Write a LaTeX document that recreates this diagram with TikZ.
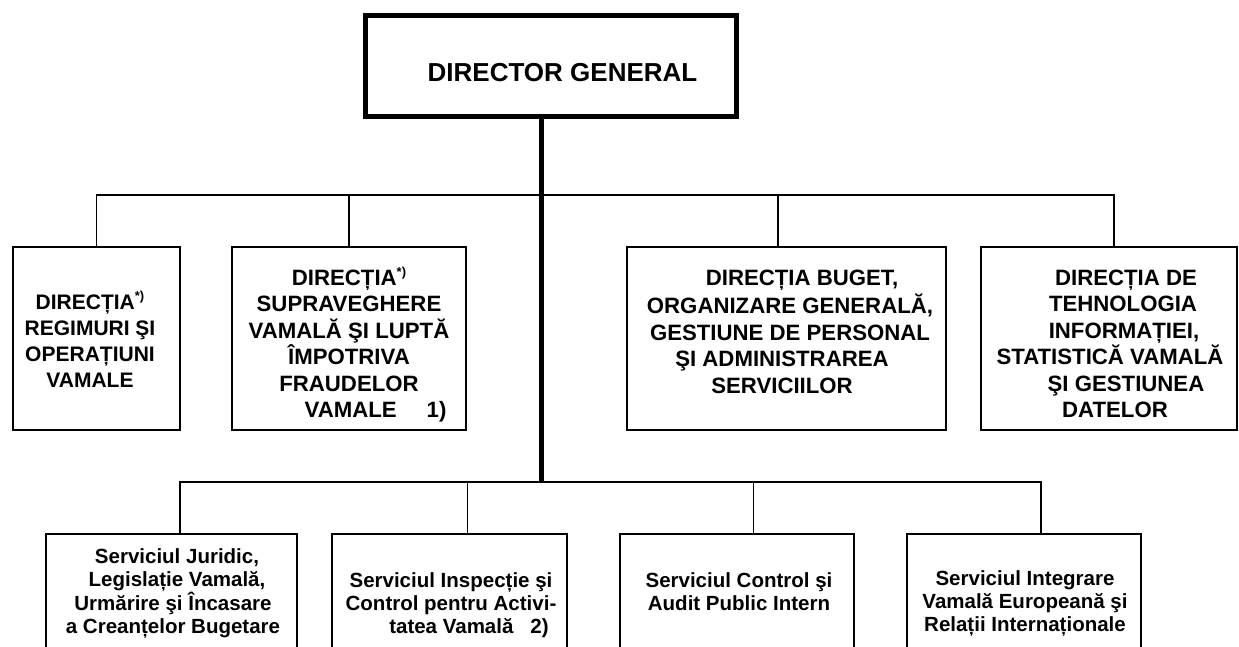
\documentclass[tikz,border=0pt]{standalone}
\usepackage{fontspec}
\setmainfont{Liberation Sans}
\newcommand{\supst}{\raisebox{0.42em}{\fontsize{13}{13}\selectfont *)}}
\tikzset{
  dgbox/.style={draw, rectangle, line width=5pt, inner sep=0pt, minimum width=371pt, minimum height=101pt},
  dirbox/.style={draw, rectangle, line width=1.8pt, inner sep=0pt, minimum height=183pt},
  srvbox/.style={draw, rectangle, line width=1.8pt, inner sep=0pt, minimum height=226pt},
  conn/.style={line width=1.4pt},
  trunk/.style={line width=5pt},
  dgtext/.style={inner sep=0pt, anchor=base, font=\fontsize{26}{31}\selectfont\bfseries},
  dirtext/.style={inner sep=0pt, anchor=north, align=center, font=\fontsize{22.2}{26.5}\selectfont\bfseries},
  smalldirtext/.style={inner sep=0pt, anchor=north, align=center, font=\fontsize{21}{26}\selectfont\bfseries},
  srvtext/.style={inner sep=0pt, anchor=north, align=center, font=\fontsize{20.5}{23}\selectfont\bfseries},
}
\begin{document}
\begin{tikzpicture}[x=1pt, y=-1pt]
\useasboundingbox (0,0) rectangle (1239,646);
\clip (0,0) rectangle (1239,646);

% director
\node[dgbox] (dg) at (551,66) {};
\node[dgtext] (dgt) at (562.5,81.3) {DIRECTOR GENERAL};

% directions
\node[dirbox, minimum width=167pt] (d1) at (96.5,338.5) {};
\node[smalldirtext] (d1t) at (90,291.3) {\strut DIRECȚIA\supst\\REGIMURI ŞI\\OPERAȚIUNI\\VAMALE};
\node[dirbox, minimum width=234pt] (d2) at (349,338.5) {};
\node[dirtext] (d2t) at (349,266.4) {\strut DIRECȚIA\supst\\SUPRAVEGHERE\\VAMALĂ ŞI LUPTĂ\\ÎMPOTRIVA\\FRAUDELOR\\\hspace*{53pt}VAMALE\hspace{30pt}1)};
\node[dirbox, minimum width=319pt] (d3) at (786.5,338.5) {};
\node[dirtext] (d3t) at (790,266.4) {\strut\hspace*{24pt}DIRECȚIA BUGET,\\ORGANIZARE GENERALĂ,\\GESTIUNE DE PERSONAL\\\hspace*{-16pt}ŞI ADMINISTRAREA\\\hspace*{-16pt}SERVICIILOR};
\node[dirbox, minimum width=256pt] (d4) at (1109,338.5) {};
\node[dirtext] (d4t) at (1110,266.4) {\strut\hspace*{32pt}DIRECȚIA DE\\\hspace*{26pt}TEHNOLOGIA\\\hspace*{28pt}INFORMAȚIEI,\\STATISTICĂ VAMALĂ\\\hspace*{32pt}ŞI GESTIUNEA\\\hspace*{10pt}DATELOR};

% services
\node[srvbox, minimum width=251pt] (s1) at (171.5,647) {};
\node[srvtext] (s1t) at (173,547) {\strut\hspace*{8pt}Serviciul Juridic,\\\hspace*{8pt}Legislație Vamală,\\Urmărire şi Încasare\\a Creanțelor Bugetare};
\node[srvbox, minimum width=235pt] (s2) at (449.5,647) {};
\node[srvtext] (s2t) at (451,571.2) {\strut Serviciul Inspecție şi\\Control pentru Activi-\\\hspace*{36pt}tatea Vamală\hspace{17pt}2)};
\node[srvbox, minimum width=234.5pt] (s3) at (737,647) {};
\node[srvtext] (s3t) at (739,571.2) {\strut Serviciul Control şi\\Audit Public Intern};
\node[srvbox, minimum width=234.5pt] (s4) at (1024,647) {};
\node[srvtext] (s4t) at (1025,569.2) {\strut Serviciul Integrare\\Vamală Europeană şi\\Relații Internaționale};

% connectors
\coordinate (u1) at (96.5,195);
\coordinate (u2) at (349,195);
\coordinate (u3) at (778,195);
\coordinate (u4) at (1114,195);
\coordinate (l1) at (180,482);
\coordinate (l2) at (467.6,482);
\coordinate (l3) at (753.6,482);
\coordinate (l4) at (1041,482);
\coordinate (hub) at (541,482);

\draw[conn] (d1.north -| u1) -- (u1) -- (u4) -- (d4.north -| u4);
\draw[conn] (u2) -- (d2.north -| u2);
\draw[conn] (u3) -- (d3.north -| u3);
\draw[conn] (s1.north -| l1) -- (l1) -- (l4) -- (s4.north -| l4);
\draw[conn] (l2) -- (s2.north -| l2);
\draw[conn] (l3) -- (s3.north -| l3);
\draw[trunk] (dg.south -| hub) -- (hub);
\end{tikzpicture}
\end{document}
